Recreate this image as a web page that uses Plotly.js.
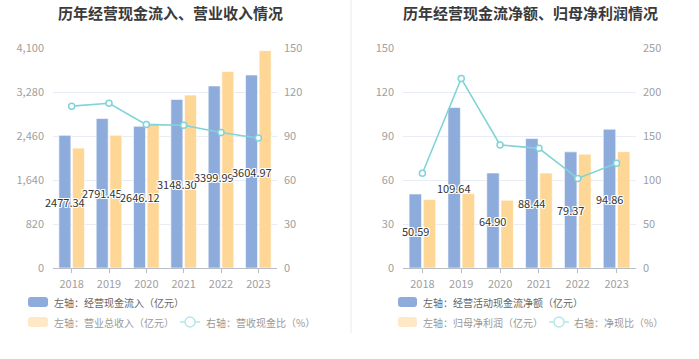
<!DOCTYPE html>
<html>
<head>
<meta charset="utf-8">
<script src="https://cdn.plot.ly/plotly-3.0.1.min.js"></script>
<style>html,body{margin:0;padding:0;background:#fff;}#chart{width:699px;height:359px;}</style>
</head>
<body>
<div id="chart"></div>
<script>
// ---- data ----
const years = ['2018', '2019', '2020', '2021', '2022', '2023'];
// left chart
const cashInflow = [2477.34, 2791.45, 2646.12, 3148.30, 3399.99, 3604.97];
const revenue = [2240, 2480, 2700, 3230, 3670, 4060];
const cashRevenueRatio = [110.6, 112.6, 98.0, 97.5, 92.6, 88.8];
// right chart
const netOpCashFlow = [50.59, 109.64, 64.90, 88.44, 79.37, 94.86];
const netProfit = [46.8, 50.8, 46.3, 64.9, 77.8, 79.5];
const netCashRatio = [108.0, 215.8, 140.2, 136.3, 102.0, 119.3];

const titleLeft = '历年经营现金流入、营业收入情况';
const titleRight = '历年经营现金流净额、归母净利润情况';
const legendLeft = ['左轴：经营现金流入（亿元）', '左轴：营业总收入（亿元）', '右轴：营收现金比（%）'];
const legendRight = ['左轴：经营活动现金流净额（亿元）', '左轴：归母净利润（亿元）', '右轴：净现比（%）'];

// ---- style ----
const W = 699, H = 359;
const BLUE = '#8dacdb', ORANGE = '#fed797', ORANGE_LEG = '#ffe8c6', CYAN = '#80d4d7', CYAN_LEG = '#b6e7ea';
const FONT = '"Noto Sans CJK SC", "Noto Sans", sans-serif';
const BARGAP = 0.27, GROUPGAP = 0.12;
const leftDom = [53, 277], rightDom = [403, 636];
const px = x => x / W;
const py = y => 1 - y / H;
function rrect(x0, y0, x1, y1, r) {
  const X = v => px(v).toFixed(5), Y = v => py(v).toFixed(5);
  return 'M' + X(x0 + r) + ',' + Y(y0) + ' L' + X(x1 - r) + ',' + Y(y0) +
    ' Q' + X(x1) + ',' + Y(y0) + ' ' + X(x1) + ',' + Y(y0 + r) +
    ' L' + X(x1) + ',' + Y(y1 - r) + ' Q' + X(x1) + ',' + Y(y1) + ' ' + X(x1 - r) + ',' + Y(y1) +
    ' L' + X(x0 + r) + ',' + Y(y1) + ' Q' + X(x0) + ',' + Y(y1) + ' ' + X(x0) + ',' + Y(y1 - r) +
    ' L' + X(x0) + ',' + Y(y0 + r) + ' Q' + X(x0) + ',' + Y(y0) + ' ' + X(x0 + r) + ',' + Y(y0) + ' Z';
}

function barTrace(y, color, xa, ya) {
  return {type: 'bar', x: years, y: y, xaxis: xa, yaxis: ya,
    marker: {color: color, line: {color: 'rgba(255,255,255,0.6)', width: 1}},
    hoverinfo: 'skip', showlegend: false};
}
function lineTrace(y, xa, ya) {
  return {type: 'scatter', mode: 'lines+markers', x: years, y: y, xaxis: xa, yaxis: ya,
    line: {color: CYAN, width: 1.6},
    marker: {symbol: 'circle', size: 6, color: '#fff', line: {color: CYAN, width: 1.5}},
    hoverinfo: 'skip', showlegend: false, cliponaxis: false};
}

const data = [
  barTrace(cashInflow, BLUE, 'x', 'y'),
  barTrace(revenue, ORANGE, 'x', 'y'),
  lineTrace(cashRevenueRatio, 'x', 'y2'),
  barTrace(netOpCashFlow, BLUE, 'x2', 'y3'),
  barTrace(netProfit, ORANGE, 'x2', 'y3'),
  lineTrace(netCashRatio, 'x2', 'y4')
];

const tickFont = {family: FONT, size: 11, color: '#a0a0a0'};
const yDom = [py(268), py(48.5)];
function xAxis(dom, anchor) {
  return {domain: [px(dom[0]), px(dom[1])], anchor: anchor, type: 'category',
    range: [-0.5, years.length - 0.5], autorange: false,
    showline: true, linecolor: '#b9bdc6', linewidth: 1,
    ticks: 'outside', ticklen: 4, tickcolor: '#b9bdc6', tickfont: tickFont, showgrid: false,
    zeroline: false, fixedrange: true, automargin: false, ticklabelstandoff: 2};
}
function yLeft(range, dtick, fmt, anchor) {
  return {domain: yDom, range: range, autorange: false, dtick: dtick, tick0: 0, tickformat: fmt, anchor: anchor,
    showgrid: true, gridcolor: '#e8ecf5', gridwidth: 1, zeroline: false, showline: false,
    ticks: '', tickfont: tickFont, automargin: false, fixedrange: true, ticklabelstandoff: 8};
}
function yRight(range, dtick, overlay, anchor) {
  return {domain: yDom, range: range, autorange: false, dtick: dtick, tick0: 0, overlaying: overlay, side: 'right', anchor: anchor,
    showgrid: false, zeroline: false, showline: false, ticks: '', tickfont: tickFont,
    automargin: false, fixedrange: true, ticklabelstandoff: 6};
}

const shapes = [
  {type: 'line', xref: 'paper', yref: 'paper', x0: px(351), x1: px(351), y0: py(0), y1: py(333),
    line: {color: '#f0f0f0', width: 1.5}, layer: 'below'},
  // left legend
  {type: 'path', xref: 'paper', yref: 'paper', path: rrect(28, 297, 48, 307, 3), fillcolor: BLUE, line: {width: 0}},
  {type: 'path', xref: 'paper', yref: 'paper', path: rrect(28, 317, 48, 327, 3), fillcolor: ORANGE_LEG, line: {width: 0}},
  {type: 'line', xref: 'paper', yref: 'paper', x0: px(180), x1: px(200), y0: py(322), y1: py(322), line: {color: CYAN_LEG, width: 1.6}},
  {type: 'circle', xref: 'paper', yref: 'paper', x0: px(185), x1: px(195), y0: py(327), y1: py(317), fillcolor: '#fff', line: {color: CYAN_LEG, width: 1.5}},
  // right legend
  {type: 'path', xref: 'paper', yref: 'paper', path: rrect(398, 297, 417, 307, 3), fillcolor: BLUE, line: {width: 0}},
  {type: 'path', xref: 'paper', yref: 'paper', path: rrect(398, 317, 417, 327, 3), fillcolor: ORANGE_LEG, line: {width: 0}},
  {type: 'line', xref: 'paper', yref: 'paper', x0: px(549), x1: px(569), y0: py(322), y1: py(322), line: {color: CYAN_LEG, width: 1.6}},
  {type: 'circle', xref: 'paper', yref: 'paper', x0: px(554), x1: px(564), y0: py(327), y1: py(317), fillcolor: '#fff', line: {color: CYAN_LEG, width: 1.5}}
];

function ann(text, x, y, size, color, xanchor, weight) {
  return {text: text, xref: 'paper', yref: 'paper', x: px(x), y: py(y), xanchor: xanchor, yanchor: 'middle',
    showarrow: false, font: {family: FONT, size: size, color: color, weight: weight || 400}};
}
const annotations = [
  ann(titleLeft, 170, 12, 15, '#3a3a3a', 'center', 700),
  ann(titleRight, 530, 12, 15, '#3a3a3a', 'center', 700),
  ann(legendLeft[0], 52, 302, 10, '#666', 'left'),
  ann(legendLeft[1], 52, 322, 10, '#999', 'left'),
  ann(legendLeft[2], 204, 322, 10, '#999', 'left'),
  ann(legendRight[0], 421, 302, 10, '#666', 'left'),
  ann(legendRight[1], 421, 322, 10, '#999', 'left'),
  ann(legendRight[2], 572, 322, 10, '#999', 'left')
];

// value labels, centred in the first bar of each group (drawn above all bars)
const SHADOW = '1px 1px 0 #fff, -1px -1px 0 #fff, 1px -1px 0 #fff, -1px 1px 0 #fff, 0 1px 0 #fff, 0 -1px 0 #fff, 1px 0 0 #fff, -1px 0 0 #fff';
function barLabels(vals, xref, yref, dom) {
  const cat = (dom[1] - dom[0]) / years.length;
  const slot = cat * (1 - BARGAP) / 2;
  const shift = -slot / 2;
  vals.forEach((v, i) => {
    annotations.push({text: v.toFixed(2), xref: xref, yref: yref, x: i, y: v / 2,
      xshift: shift, yshift: 0, xanchor: 'center', yanchor: 'middle', showarrow: false,
      font: {family: FONT, size: 11, color: '#333', shadow: SHADOW}});
  });
}
barLabels(cashInflow, 'x', 'y', leftDom);
barLabels(netOpCashFlow, 'x2', 'y3', rightDom);

const layout = {
  width: W, height: H, margin: {l: 0, r: 0, t: 0, b: 0, pad: 0},
  paper_bgcolor: '#fff', plot_bgcolor: 'rgba(0,0,0,0)',
  font: {family: FONT},
  barmode: 'group', bargap: BARGAP, bargroupgap: GROUPGAP,
  showlegend: false, hovermode: false,
  xaxis: xAxis(leftDom, 'y'),
  xaxis2: xAxis(rightDom, 'y3'),
  yaxis: yLeft([0, 4100], 820, ',', 'x'),
  yaxis2: yRight([0, 150], 30, 'y', 'x'),
  yaxis3: yLeft([0, 150], 30, '', 'x2'),
  yaxis4: yRight([0, 250], 50, 'y3', 'x2'),
  shapes: shapes,
  annotations: annotations
};

Plotly.newPlot('chart', data, layout, {displayModeBar: false, staticPlot: true});
</script>
</body>
</html>
